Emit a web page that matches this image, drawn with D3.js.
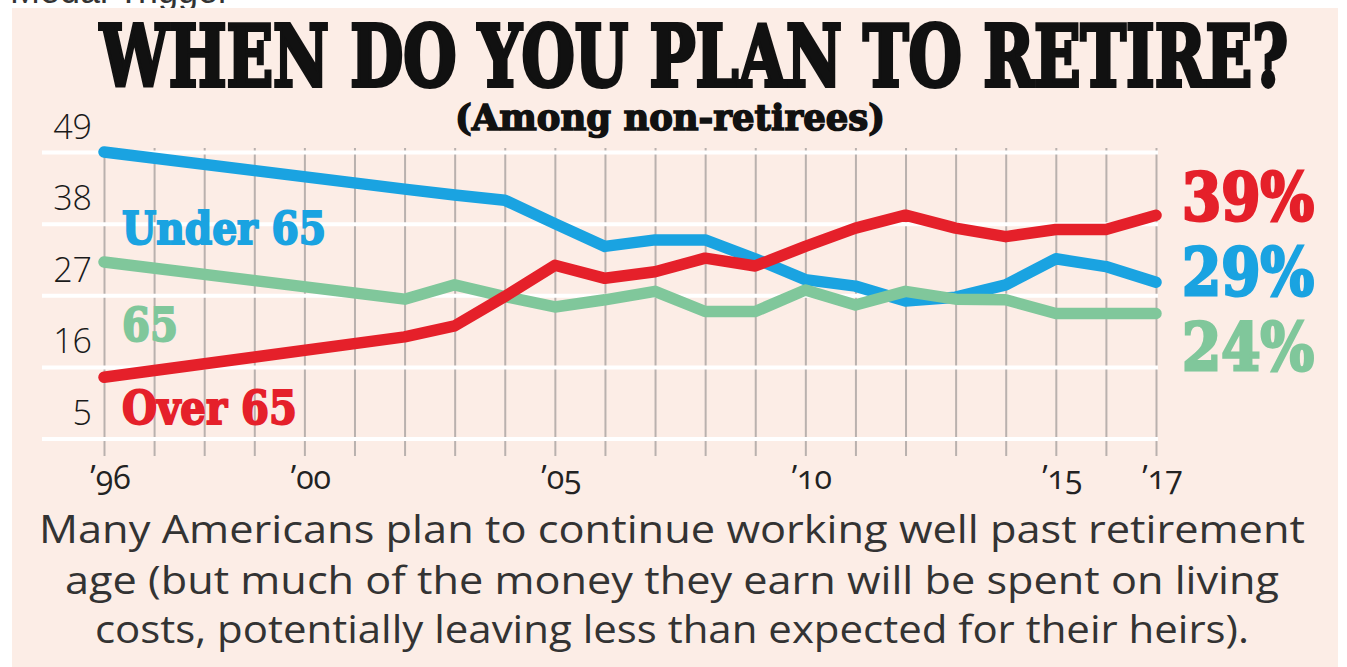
<!DOCTYPE html>
<html lang="en">
<head>
<meta charset="UTF-8" />
<script src="https://d3js.org/d3.v7.min.js"></script>
<title>When do you plan to retire?</title>
<style>
  body { margin: 0; background: #fff; }
  svg { display: block; }
  .heavy { font-family: "DejaVu Serif", serif; font-weight: bold; }
</style>
</head>
<body>
<svg id="chart" width="1347" height="667"></svg>
<script>
// survey years and the three answers (% of non-retirees)
const years   = [1996, 2002, 2003, 2004, 2005, 2006, 2007, 2008, 2009, 2010, 2011, 2012, 2013, 2014, 2015, 2016, 2017];
const under65 = [49, 43.3, 42.4, 41.6, 38, 34.5, 35.5, 35.5, 32.6, 29.4, 28.4, 26.1, 26.7, 28.6, 32.6, 31.4, 29];
const at65    = [32.1, 26.4, 28.6, 26.8, 25.2, 26.3, 27.6, 24.5, 24.5, 27.8, 25.5, 27.6, 26.4, 26.3, 24.2, 24.2, 24.2];
const over65  = [14.4, 20.6, 22.3, 26.8, 31.6, 29.6, 30.6, 32.7, 31.5, 34.5, 37.3, 39.3, 37.3, 36, 37.1, 37.1, 39.3];

const yTicks = [49, 38, 27, 16, 5];
const gridYears = d3.range(1996, 2018);
const xLabelYears = [1996, 2000, 2005, 2010, 2015, 2017];

const seriesNames = ['Under 65', '65', 'Over 65'];
const endLabels = ['29%', '24%', '39%'];
const colors = ['#1aa3e1', '#80c79b', '#e5202a'];

const svg = d3.select('#chart');

// cut-off caption line from the page above the graphic
svg.append('text')
  .attr('x', 10).attr('y', 3)
  .attr('font-family', '"Liberation Sans", Arial, sans-serif')
  .attr('font-size', 36)
  .attr('fill', '#333')
  .text('Medal Trigger');

svg.append('rect')
  .attr('x', 12).attr('y', 8)
  .attr('width', 1326).attr('height', 659)
  .attr('fill', '#fcede6');

const x = d3.scaleLinear().domain([1996, 2017]).range([104, 1156]);
const y = d3.scaleLinear().domain([5, 49]).range([438.5, 152]);

// vertical year grid + labels
const xAxis = d3.axisBottom(x)
  .tickValues(gridYears)
  .tickSize(308)
  .tickPadding(10)
  .tickFormat(d => xLabelYears.includes(d) ? '\u2019' + String(d).slice(2) : '');

const xAxisG = svg.append('g')
  .attr('transform', 'translate(0,148)')
  .call(xAxis);
xAxisG.select('.domain').remove();
xAxisG.selectAll('.tick line')
  .attr('stroke', '#b9b1ae')
  .attr('stroke-width', 2);
xAxisG.selectAll('.tick text')
  .attr('x', 6)
  .attr('font-family', '"Open Sans", sans-serif')
  .attr('font-size', 32)
  .style('font-variant-numeric', 'oldstyle-nums')
  .attr('fill', '#222');

// horizontal white grid + value labels
const yAxis = d3.axisLeft(y)
  .tickValues(yTicks)
  .tickSize(-1116)
  .tickPadding(0);

const yAxisG = svg.append('g')
  .attr('transform', 'translate(42,0)')
  .call(yAxis);
yAxisG.select('.domain').remove();
yAxisG.selectAll('.tick line')
  .attr('stroke', '#ffffff')
  .attr('stroke-width', 4);
yAxisG.selectAll('.tick text')
  .attr('x', 50)
  .attr('dy', -14)
  .attr('text-anchor', 'end')
  .attr('font-family', '"Open Sans", sans-serif')
  .attr('font-weight', 300)
  .attr('font-size', 34)
  .attr('fill', '#1a1a1a');

// lines: blue underneath, then green, red on top
const line = d3.line()
  .x((d, i) => x(years[i]))
  .y(d => y(d));

[under65, at65, over65].forEach((values, i) => {
  svg.append('path')
    .datum(values)
    .attr('d', line)
    .attr('fill', 'none')
    .attr('stroke', colors[i])
    .attr('stroke-width', 11.5)
    .attr('stroke-linejoin', 'round')
    .attr('stroke-linecap', 'round');
});

// title
svg.append('text')
  .attr('class', 'heavy')
  .attr('x', 100).attr('y', 86)
  .attr('font-size', 84)
  .attr('textLength', 1188)
  .attr('lengthAdjust', 'spacingAndGlyphs')
  .attr('fill', '#111')
  .attr('stroke', '#111')
  .attr('stroke-width', 4)
  .text('WHEN DO YOU PLAN TO RETIRE?');

svg.append('text')
  .attr('class', 'heavy')
  .attr('x', 455).attr('y', 130)
  .attr('font-size', 35)
  .attr('textLength', 430)
  .attr('lengthAdjust', 'spacingAndGlyphs')
  .attr('fill', '#111')
  .attr('stroke', '#111')
  .attr('stroke-width', 1.5)
  .text('(Among non-retirees)');

// series names on the left
const nameLayout = [
  { x: 122, y: 244, w: 204, size: 44 },
  { x: 122, y: 341, w: 56, size: 46 },
  { x: 122, y: 424, w: 175, size: 46 }
];
seriesNames.forEach((name, i) => {
  svg.append('text')
    .attr('class', 'heavy')
    .attr('x', nameLayout[i].x).attr('y', nameLayout[i].y)
    .attr('font-size', nameLayout[i].size)
    .attr('textLength', nameLayout[i].w)
    .attr('lengthAdjust', 'spacingAndGlyphs')
    .attr('fill', colors[i])
    .attr('stroke', colors[i])
    .attr('stroke-width', 2)
    .text(name);
});

// end values on the right
const endY = [295, 370, 220];
endLabels.forEach((lab, i) => {
  svg.append('text')
    .attr('class', 'heavy')
    .attr('x', 1182).attr('y', endY[i])
    .attr('font-size', 66)
    .attr('textLength', 132)
    .attr('lengthAdjust', 'spacingAndGlyphs')
    .attr('fill', colors[i])
    .attr('stroke', colors[i])
    .attr('stroke-width', 3)
    .text(lab);
});

// caption
const caption = [
  { t: 'Many Americans plan to continue working well past retirement', w: 1266, y: 543 },
  { t: 'age (but much of the money they earn will be spent on living', w: 1214, y: 594 },
  { t: 'costs, potentially leaving less than expected for their heirs).', w: 1154, y: 643 }
];
caption.forEach(c => {
  svg.append('text')
    .attr('x', 672).attr('y', c.y)
    .attr('text-anchor', 'middle')
    .attr('font-family', '"Open Sans", sans-serif')
    .attr('font-size', 39)
    .attr('textLength', c.w)
    .attr('lengthAdjust', 'spacingAndGlyphs')
    .attr('fill', '#333')
    .text(c.t);
});
</script>
</body>
</html>
